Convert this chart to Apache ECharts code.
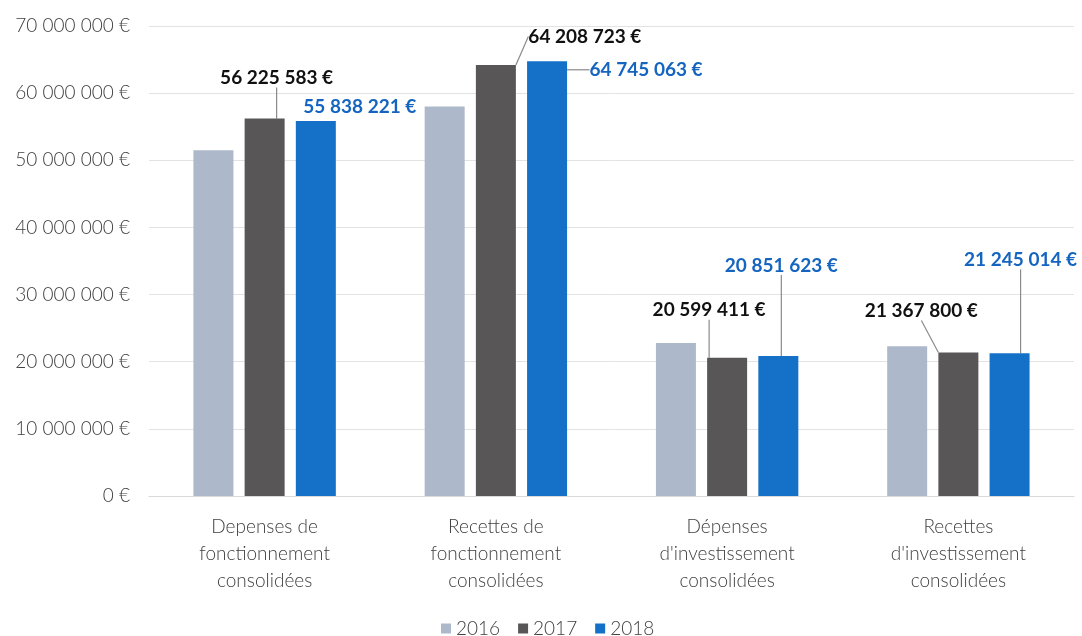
<!DOCTYPE html>
<html>
<head>
<meta charset="utf-8">
<script src="https://cdn.jsdelivr.net/npm/echarts@6/dist/echarts.min.js"></script>
<style>
html,body{margin:0;padding:0;background:#fff;}
#chart{width:1082px;height:636px;}
</style>
</head>
<body>
<div id="chart"></div>
<script>
var categories = [
  "Depenses de\nfonctionnement\nconsolidées",
  "Recettes de\nfonctionnement\nconsolidées",
  "Dépenses\nd'investissement\nconsolidées",
  "Recettes\nd'investissement\nconsolidées"
];
var years = ["2016", "2017", "2018"];
var values2016 = [51500000, 58000000, 22800000, 22300000];
var values2017 = [56225583, 64208723, 20599411, 21367800];
var values2018 = [55838221, 64745063, 20851623, 21245014];
var yTicks = { min: 0, max: 70000000, interval: 10000000 };

// label displacement (dx, dy) per bar, and whether a leader line is drawn
var labelShift2017 = [[12, -26], [89, -14], [-18, -33], [-37, -27]];
var labelShift2018 = [[44, 0], [99, 23], [3, -76], [11, -79]];
var leader2017 = [true, true, true, true];
var leader2018 = [false, true, true, true];

function fmt(v) {
  return String(Math.round(v)).replace(/\B(?=(\d{3})+(?!\d))/g, " ") + " €";
}

var axisFont = "Lato";
var colors = ["#adb9ca", "#595657", "#1570c8"];

function items(vals, leaders) {
  return vals.map(function (v, i) {
    return { value: v, labelLine: { show: leaders ? leaders[i] : false } };
  });
}

var chart = echarts.init(document.getElementById("chart"), null, { renderer: "canvas" });
chart.setOption({
  animation: false,
  backgroundColor: "#ffffff",
  color: colors,
  grid: { left: 149, right: 8, top: 26, bottom: 140, containLabel: false },
  legend: {
    data: years,
    left: 441,
    top: 619,
    itemWidth: 10,
    itemHeight: 10,
    itemGap: 18,
    padding: 0,
    icon: "rect",
    textStyle: { fontFamily: axisFont, fontWeight: 300, fontSize: 19, color: "#404040" }
  },
  xAxis: {
    type: "category",
    data: categories,
    axisLine: { show: true, lineStyle: { color: "#d9d9d9", width: 1 } },
    axisTick: { show: false },
    axisLabel: {
      margin: 17,
      fontFamily: axisFont,
      fontWeight: 300,
      fontSize: 19,
      lineHeight: 27,
      color: "#404040",
      interval: 0
    }
  },
  yAxis: {
    type: "value",
    min: yTicks.min,
    max: yTicks.max,
    interval: yTicks.interval,
    axisLine: { show: false },
    axisTick: { show: false },
    splitLine: { lineStyle: { color: "#e3e3e3", width: 1 } },
    axisLabel: {
      margin: 19,
      fontFamily: axisFont,
      fontWeight: 300,
      fontSize: 19,
      color: "#404040",
      formatter: function (v) { return fmt(v); }
    }
  },
  series: [
    {
      name: "2016",
      type: "bar",
      data: items(values2016, null),
      barWidth: 40,
      barGap: "28%",
      label: { show: false }
    },
    {
      name: "2017",
      type: "bar",
      data: items(values2017, leader2017),
      barWidth: 40,
      barGap: "28%",
      label: {
        show: true,
        position: "top",
        fontFamily: "Lato",
        fontWeight: "bold",
        fontSize: 19,
        color: "#111111",
        formatter: function (p) { return fmt(p.value); }
      },
      labelLine: { show: true, lineStyle: { color: "#8a8a8a", width: 1.2 } },
      labelLayout: function (p) {
        var s = labelShift2017[p.dataIndex];
        return { dx: s[0], dy: s[1] };
      }
    },
    {
      name: "2018",
      type: "bar",
      data: items(values2018, leader2018),
      barWidth: 40,
      barGap: "28%",
      label: {
        show: true,
        position: "top",
        fontFamily: "Lato",
        fontWeight: "bold",
        fontSize: 19,
        color: "#1565c0",
        formatter: function (p) { return fmt(p.value); }
      },
      labelLine: { show: true, lineStyle: { color: "#8a8a8a", width: 1.2 } },
      labelLayout: function (p) {
        var s = labelShift2018[p.dataIndex];
        return { dx: s[0], dy: s[1] };
      }
    }
  ]
});
</script>
</body>
</html>
